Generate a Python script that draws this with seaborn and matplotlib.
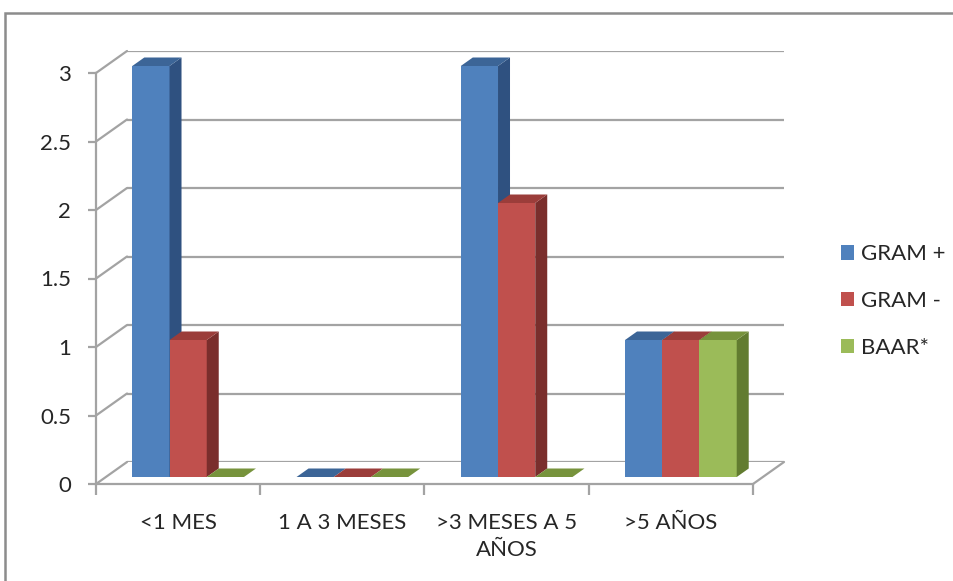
import numpy as np
import pandas as pd
import seaborn as sns
import matplotlib.pyplot as plt
from matplotlib.colors import to_rgb
from matplotlib.lines import Line2D
from matplotlib.patches import Polygon, Patch, Rectangle

# ---- data -------------------------------------------------------------
categories = ["<1 MES", "1 A 3 MESES", ">3 MESES A 5\nAÑOS", ">5 AÑOS"]
series = ["GRAM +", "GRAM -", "BAAR*"]
gram_pos = [3, 0, 3, 1]
gram_neg = [1, 0, 2, 1]
baar = [0, 0, 0, 1]
y_ticks = [0, 0.5, 1, 1.5, 2, 2.5, 3]

front_colors = ["#4F81BD", "#C0504D", "#9BBB59"]
top_colors = ["#3C6597", "#9B3D3A", "#77933C"]
side_colors = ["#2F5180", "#7A2E2C", "#627C30"]

df = pd.DataFrame({
    "category": categories * 3,
    "series": np.repeat(series, len(categories)),
    "value": gram_pos + gram_neg + baar,
})

# ---- style ------------------------------------------------------------
sns.set_theme(style="white")
plt.rcParams["font.family"] = ["Lato", "DejaVu Sans"]
TXT = "#262626"
GRID = "#A3A3A3"
FS = 16

W, H = 954, 581
fig = plt.figure(figsize=(W / 100, H / 100), dpi=100)


def rect(x0, ytop, x1, ybot):
    return [x0 / W, 1 - ybot / H, (x1 - x0) / W, (ybot - ytop) / H]


# three parallel planes of the pseudo-3D box: back wall, front edge, bar plane
ax_back = fig.add_axes(rect(127, 51, 784, 462))
ax_front = fig.add_axes(rect(96, 73, 753, 484))
ax_bar = fig.add_axes(rect(106, 66, 763, 477))
for ax in (ax_back, ax_front, ax_bar):
    ax.set_facecolor("none")
    ax.set_xlim(-0.5, len(categories) - 0.5)
    ax.set_ylim(0, 3)

# back wall gridlines
for y in y_ticks:
    ax_back.axhline(y, color=GRID, lw=1.6, zorder=0)
ax_back.axis("off")

# front axis: spines, ticks and labels
for s in ("top", "right"):
    ax_front.spines[s].set_visible(False)
for s in ("left", "bottom"):
    ax_front.spines[s].set_color(GRID)
    ax_front.spines[s].set_linewidth(1.6)
ax_front.set_yticks(y_ticks)
ax_front.set_yticklabels([f"{v:g}" for v in y_ticks])
ax_front.set_xticks(np.arange(len(categories) + 1) - 0.5)
ax_front.set_xticklabels([])
ax_front.set_xticks(np.arange(len(categories)), minor=True)
ax_front.set_xticklabels(categories, minor=True)
ax_front.tick_params(axis="y", which="major", direction="out", length=6,
                     width=1.6, color=GRID, labelsize=FS, labelcolor=TXT, pad=12,
                     left=True)
ax_front.tick_params(axis="x", which="major", direction="out", length=8,
                     width=1.6, color=GRID, bottom=True)
ax_front.tick_params(axis="x", which="minor", length=0, labelsize=FS,
                     labelcolor=TXT, pad=21, bottom=True)
for lbl in ax_front.get_xticklabels(minor=True):
    lbl.set_linespacing(1.45)
    lbl.set_multialignment("center")

# diagonals joining front ticks to back gridlines, and floor right edge
to_fig = fig.transFigure.inverted()
links = [(-0.5, y) for y in y_ticks] + [(len(categories) - 0.5, 0)]
for x, y in links:
    p0 = to_fig.transform(ax_front.transData.transform((x, y)))
    p1 = to_fig.transform(ax_back.transData.transform((x, y)))
    fig.add_artist(Line2D([p0[0], p1[0]], [p0[1], p1[1]], color=GRID,
                          lw=1.6, transform=fig.transFigure, zorder=1))

# bars
sns.barplot(data=df, x="category", y="value", hue="series",
            palette=front_colors, width=0.68, saturation=1, ax=ax_bar,
            legend=False, edgecolor="none", linewidth=0, err_kws={"linewidth": 0})
ax_bar.set_xlim(-0.5, len(categories) - 0.5)
ax_bar.set_ylim(0, 3)
ax_bar.axis("off")

# extrude each bar: top face and right side face
inv = ax_bar.transData.inverted()
ddx, ddy = inv.transform((12, 8.5)) - inv.transform((0, 0))
front_rgb = [np.array(to_rgb(c)) for c in front_colors]
bars = sorted(ax_bar.patches, key=lambda p: p.get_x())
for k, p in enumerate(bars):
    x, w, h = p.get_x(), p.get_width(), p.get_height()
    fc = np.array(p.get_facecolor()[:3])
    ci = int(np.argmin([np.sum((c - fc) ** 2) for c in front_rgb]))
    z = 2 + k * 0.1
    p.set_zorder(z)
    top = Polygon([(x, h), (x + w, h), (x + w + ddx, h + ddy), (x + ddx, h + ddy)],
                  closed=True, facecolor=top_colors[ci], edgecolor="none",
                  zorder=z + 0.05, clip_on=False)
    ax_bar.add_patch(top)
    if h > 0:
        side = Polygon([(x + w, 0), (x + w, h), (x + w + ddx, h + ddy),
                        (x + w + ddx, ddy)],
                       closed=True, facecolor=side_colors[ci], edgecolor="none",
                       zorder=z + 0.04, clip_on=False)
        ax_bar.add_patch(side)

# legend
handles = [Patch(facecolor=c, edgecolor="none") for c in front_colors]
fig.legend(handles, series, loc="center left", bbox_to_anchor=(821 / W, 1 - 301 / H),
           frameon=False, fontsize=FS, handlelength=0.6, handleheight=0.6,
           handletextpad=0.3, labelspacing=1.2, labelcolor=TXT)

# chart-area border
fig.add_artist(Rectangle((5 / W, -0.1), 1.2, 1 - 13 / H + 0.1, fill=False,
                         edgecolor="#8C8C8C", lw=1.8, transform=fig.transFigure))

fig.savefig("out.png", dpi=100)
